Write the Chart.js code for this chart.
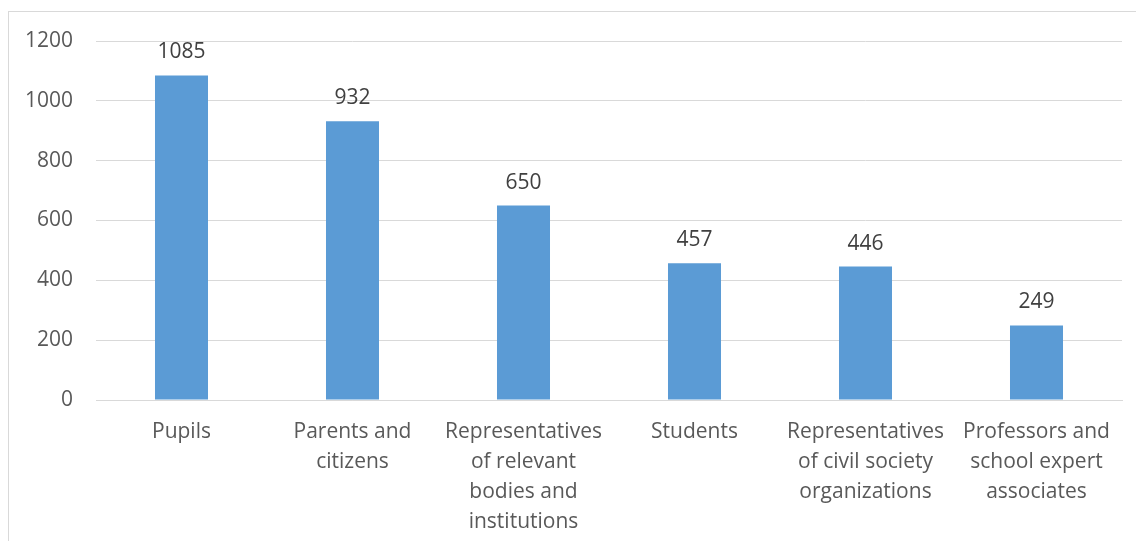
<!DOCTYPE html>
<html>
<head>
<meta charset="utf-8">
<script src="https://cdn.jsdelivr.net/npm/chart.js@4"></script>
<style>
  html, body { margin: 0; padding: 0; background: #fff; overflow: hidden; }
  #wrap { position: relative; width: 1136px; height: 541px; }
  #frame { position: absolute; left: 8px; top: 11px; width: 1200px; height: 600px; border-left: 1px solid #d9d9d9; border-top: 1px solid #d9d9d9; }
  canvas { position: absolute; left: 0; top: 0; }
</style>
</head>
<body>
<div id="wrap">
  <div id="frame"></div>
  <canvas id="chart" width="1136" height="541"></canvas>
</div>
<script>
// カテゴリと値
const categories = [
    'Pupils',
    ['Parents and', 'citizens'],
    ['Representatives', 'of relevant', 'bodies and', 'institutions'],
    'Students',
    ['Representatives', 'of civil society', 'organizations'],
    ['Professors and', 'school expert', 'associates']
];
const counts = [1085, 932, 650, 457, 446, 249];
const yTicks = [0, 200, 400, 600, 800, 1000, 1200];

const FONT = '"Open Sans", sans-serif';

// 棒の上に値を表示する
const valueLabels = {
    id: 'valueLabels',
    afterDatasetsDraw(chart) {
        const ctx = chart.ctx;
        const meta = chart.getDatasetMeta(0);
        ctx.save();
        ctx.font = '21px ' + FONT;
        ctx.fillStyle = '#404040';
        ctx.textAlign = 'center';
        ctx.textBaseline = 'middle';
        meta.data.forEach((bar, i) => {
            ctx.fillText(String(counts[i]), bar.x, bar.y - 23);
        });
        ctx.restore();
    }
};

new Chart(document.getElementById('chart').getContext('2d'), {
    type: 'bar',
    data: {
        labels: categories,
        datasets: [{
            data: counts,
            backgroundColor: '#5B9BD5',
            borderWidth: 0,
            barPercentage: 0.31,
            categoryPercentage: 1
        }]
    },
    options: {
        responsive: false,
        animation: false,
        devicePixelRatio: 1,
        layout: { padding: { left: 0, right: 14, top: 41, bottom: 0 } },
        plugins: { legend: { display: false }, tooltip: { enabled: false } },
        scales: {
            x: {
                grid: { display: false, drawTicks: false },
                border: { display: true, color: '#d9d9d9', width: 1 },
                ticks: {
                    color: '#595959',
                    font: { family: FONT, size: 21, lineHeight: 1.43 },
                    padding: 17,
                    maxRotation: 0,
                    autoSkip: false
                },
                afterFit(scale) { scale.height = 141; }
            },
            y: {
                min: 0,
                max: 1200,
                afterBuildTicks(scale) { scale.ticks = yTicks.map(v => ({ value: v })); },
                grid: { color: '#d9d9d9', lineWidth: 1, drawTicks: false },
                border: { display: false },
                ticks: {
                    color: '#595959',
                    font: { family: FONT, size: 21 },
                    padding: 23,
                    callback: v => String(v)
                },
                afterFit(scale) { scale.width = 96; }
            }
        }
    },
    plugins: [valueLabels]
});
</script>
</body>
</html>
